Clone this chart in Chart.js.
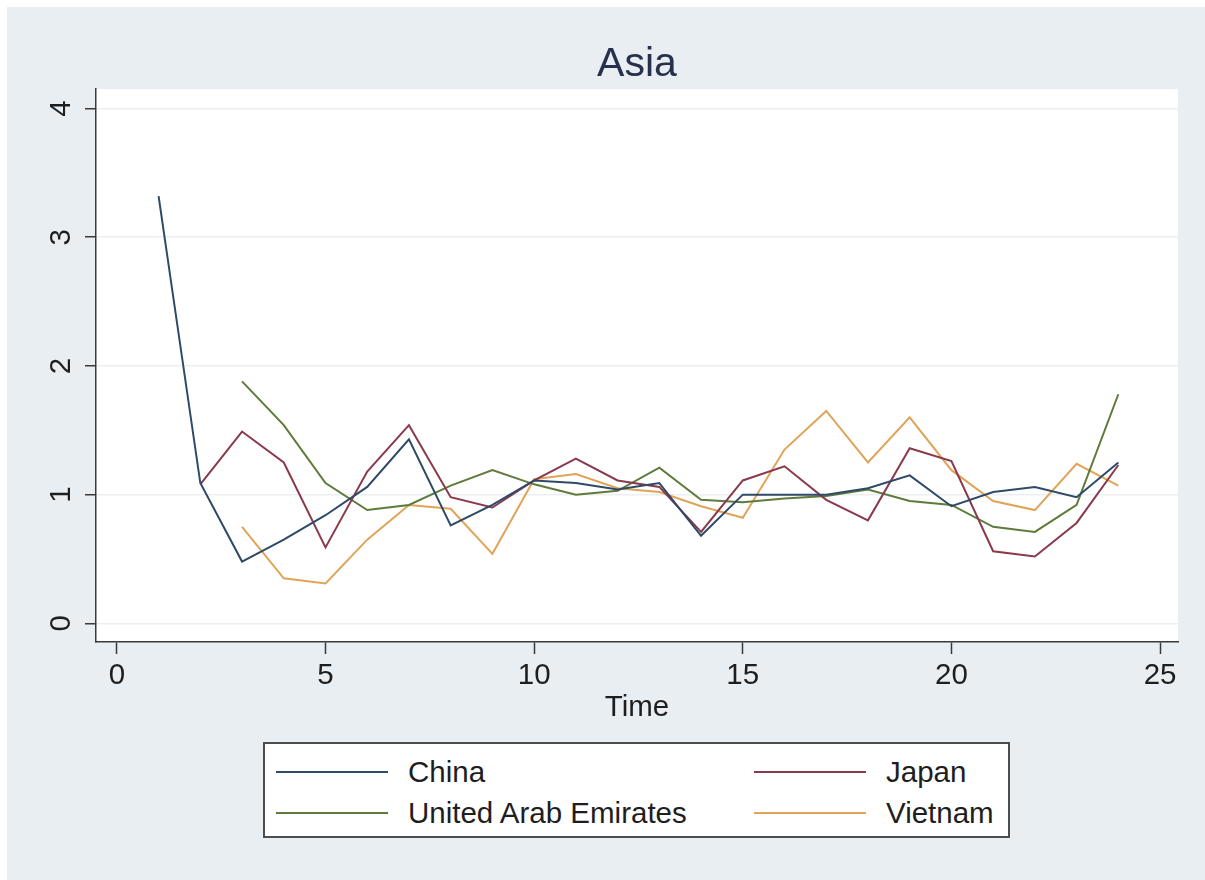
<!DOCTYPE html>
<html>
<head>
<meta charset="utf-8">
<title>Asia</title>
<script src="https://cdn.jsdelivr.net/npm/chart.js@4.4.1/dist/chart.umd.min.js"></script>
<style>
  html, body { margin: 0; padding: 0; background: #ffffff; }
  #wrap { position: relative; width: 1205px; height: 880px; overflow: hidden; }
  #chart { position: absolute; left: 0; top: 0; }
  #legend {
    position: absolute; left: 263px; top: 742px; width: 743px; height: 92px;
    border: 2px solid #4d4d4d; background: #ffffff;
    font-family: "Liberation Sans", Arial, Helvetica, sans-serif; font-size: 29.5px; color: #1e1e1e;
  }
  .item { position: absolute; height: 40px; display: flex; align-items: center; white-space: nowrap; }
  .swatch { width: 112px; height: 2px; margin-right: 20px; }
</style>
</head>
<body>
<div id="wrap">
  <canvas id="chart" width="1205" height="880"></canvas>
  <div id="legend"></div>
</div>
<script>
// Time index and series values per country
const time = [1, 2, 3, 4, 5, 6, 7, 8, 9, 10, 11, 12, 13, 14, 15, 16, 17, 18, 19, 20, 21, 22, 23, 24];
const china   = [3.32, 1.09, 0.48, 0.65, 0.84, 1.06, 1.43, 0.76, 0.92, 1.11, 1.09, 1.04, 1.09, 0.68, 1.00, 1.00, 1.00, 1.05, 1.15, 0.91, 1.02, 1.06, 0.98, 1.25];
const japan   = [null, 1.08, 1.49, 1.25, 0.59, 1.18, 1.54, 0.98, 0.90, 1.11, 1.28, 1.11, 1.06, 0.71, 1.11, 1.22, 0.96, 0.80, 1.36, 1.26, 0.56, 0.52, 0.78, 1.23];
const uae     = [null, null, 1.88, 1.54, 1.09, 0.88, 0.92, 1.07, 1.19, 1.08, 1.00, 1.03, 1.21, 0.96, 0.94, 0.97, 0.99, 1.04, 0.95, 0.92, 0.75, 0.71, 0.92, 1.78];
const vietnam = [null, null, 0.75, 0.35, 0.31, 0.65, 0.92, 0.89, 0.54, 1.12, 1.16, 1.05, 1.02, 0.91, 0.82, 1.35, 1.65, 1.25, 1.60, 1.19, 0.95, 0.88, 1.24, 1.07];

const seriesNames = ["China", "Japan", "United Arab Emirates", "Vietnam"];
const seriesColors = ["#2f4a68", "#8a3a4c", "#5f7b3c", "#e0a458"];
const xTicks = [0, 5, 10, 15, 20, 25];
const yTicks = [0, 1, 2, 3, 4];

const FONT = '"Liberation Sans", Arial, Helvetica, sans-serif';
const TEXT_SIZE = 29.5;

function points(values) {
  return time.map((t, i) => ({ x: t, y: values[i] }));
}

const datasets = [china, japan, uae, vietnam].map((vals, i) => ({
  label: seriesNames[i],
  data: points(vals),
  borderColor: seriesColors[i],
  backgroundColor: seriesColors[i],
  borderWidth: 2,
  pointRadius: 0,
  tension: 0,
  spanGaps: false
}));

// Graph region fill, white margin at top/left and white plot region
const backdrop = {
  id: 'backdrop',
  beforeDraw(chart) {
    const { ctx, width, height, chartArea } = chart;
    ctx.save();
    ctx.fillStyle = '#ffffff';
    ctx.fillRect(0, 0, width, height);
    ctx.fillStyle = '#e9eef2';
    ctx.fillRect(7, 7, width - 7, height - 7);
    ctx.fillStyle = '#ffffff';
    ctx.fillRect(chartArea.left, chartArea.top, chartArea.right - chartArea.left, chartArea.bottom - chartArea.top);
    ctx.restore();
  }
};

const chart = new Chart(document.getElementById('chart'), {
  type: 'line',
  data: { datasets },
  plugins: [backdrop],
  options: {
    responsive: false,
    animation: false,
    devicePixelRatio: 1,
    layout: { padding: { left: 7, right: 27, top: 7, bottom: 148 } },
    plugins: {
      legend: { display: false },
      tooltip: { enabled: false },
      title: {
        display: true,
        fullSize: false,
        text: 'Asia',
        color: '#27304d',
        font: { family: FONT, size: 41, weight: 'normal' },
        padding: { top: 33, bottom: 0 }
      }
    },
    scales: {
      x: {
        type: 'linear',
        min: -0.5,
        max: 25.43,
        afterBuildTicks(scale) { scale.ticks = xTicks.map(v => ({ value: v })); },
        afterFit(scale) { scale.height = 90; },
        grid: { drawOnChartArea: false, drawTicks: true, tickLength: 12, tickColor: '#3a3a3a', tickWidth: 1.5 },
        border: { display: true, color: '#3a3a3a', width: 1.5 },
        ticks: { color: '#1e1e1e', font: { family: FONT, size: TEXT_SIZE }, padding: 4, maxRotation: 0, autoSkip: false },
        title: {
          display: true, text: 'Time', color: '#1e1e1e',
          font: { family: FONT, size: TEXT_SIZE }, padding: { top: 0, bottom: 6 }
        }
      },
      y: {
        type: 'linear',
        min: -0.145,
        max: 4.15,
        afterBuildTicks(scale) { scale.ticks = yTicks.map(v => ({ value: v })); },
        afterFit(scale) { scale.width = 89; },
        grid: { color: '#eceff2', lineWidth: 1.5, drawTicks: true, tickLength: 11, tickColor: '#3a3a3a', tickWidth: 1.5 },
        border: { display: true, color: '#3a3a3a', width: 1.5 },
        ticks: {
          color: '#1e1e1e', font: { family: FONT, size: TEXT_SIZE },
          minRotation: 90, maxRotation: 90, crossAlign: 'center', padding: 15, autoSkip: false
        }
      }
    }
  }
});

// Two-column legend built from the chart's datasets
(function buildLegend() {
  const box = document.getElementById('legend');
  const colLeft = [11, 489];   // swatch start within the box
  const rowTop = [8, 49];
  chart.data.datasets.forEach((ds, i) => {
    const item = document.createElement('div');
    item.className = 'item';
    item.style.left = colLeft[i % 2] + 'px';
    item.style.top = rowTop[Math.floor(i / 2)] + 'px';
    const sw = document.createElement('span');
    sw.className = 'swatch';
    sw.style.background = ds.borderColor;
    const tx = document.createElement('span');
    tx.textContent = ds.label;
    item.appendChild(sw);
    item.appendChild(tx);
    box.appendChild(item);
  });
})();
</script>
</body>
</html>
